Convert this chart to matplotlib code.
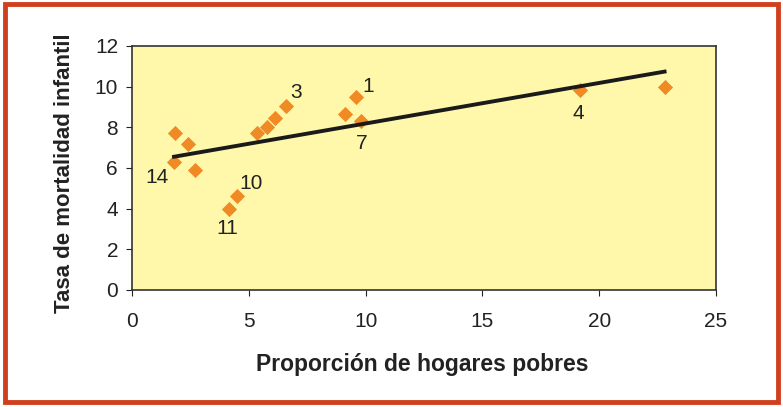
import matplotlib
matplotlib.use("Agg")
import matplotlib.pyplot as plt
from matplotlib.patches import Rectangle
import numpy as np

plt.rcParams['font.family'] = ['Liberation Sans', 'DejaVu Sans']

pobres = [1.8, 1.85, 2.4, 2.7, 4.15, 4.5, 5.35, 5.8, 6.1, 6.6, 9.1, 9.6, 9.8, 19.2, 22.8]
mortalidad = [6.3, 7.7, 7.2, 5.9, 4.0, 4.6, 7.7, 8.0, 8.45, 9.05, 8.65, 9.5, 8.3, 9.85, 10.0]
etiquetas = ["14", "", "", "", "11", "10", "", "", "", "3", "", "1", "7", "4", ""]
label_offsets = {"14": (-17, -16), "11": (-2, -20), "10": (14, 13), "3": (10, 13),
                 "1": (12, 10), "7": (1, -22), "4": (-2, -24)}
xticks = [0, 5, 10, 15, 20, 25]
yticks = [0, 2, 4, 6, 8, 10, 12]

fig = plt.figure(figsize=(7.83, 4.07), dpi=100)
fig.patch.set_facecolor('white')
fig.patches.append(Rectangle((0.006, 0.012), 0.988, 0.978, transform=fig.transFigure,
                             fill=False, edgecolor='#D0401F', linewidth=3.5))

ax = fig.add_axes([0.1686, 0.2875, 0.7458, 0.5995])
ax.set_facecolor('#FFF8AA')
ax.scatter(pobres, mortalidad, marker='D', s=60, color='#F08A24', zorder=3, linewidths=0)

coef = np.polyfit(pobres, mortalidad, 1)
xs = np.array([min(pobres), max(pobres)])
ax.plot(xs, np.polyval(coef, xs), color='#1a1a1a', linewidth=2.8, zorder=4)

labfont = ['Liberation Sans Narrow', 'Liberation Sans', 'DejaVu Sans']
for x, y, t in zip(pobres, mortalidad, etiquetas):
    if t:
        dx, dy = label_offsets[t]
        ax.annotate(t, (x, y), xytext=(dx, dy), textcoords='offset pixels',
                    ha='center', va='center', fontsize=15, color='#222222',
                    family=labfont)

ax.set_xlim(0, 25)
ax.set_ylim(0, 12)
ax.set_xticks(xticks)
ax.set_yticks(yticks)
ax.tick_params(direction='out', length=4, colors='#222222')
ax.tick_params(axis='x', pad=12)
ax.tick_params(axis='y', pad=6)
for lab in ax.get_xticklabels() + ax.get_yticklabels():
    lab.set_family(labfont)
    lab.set_fontsize(15)
for s in ax.spines.values():
    s.set_color('#333333')
    s.set_linewidth(1.2)

fig.text(422 / 783, 1 - 365 / 407, 'Proporción de hogares pobres', fontsize=16.5,
         fontweight='bold', color='#222222', ha='center', va='center')
fig.text(65 / 783, 1 - 173 / 407, 'Tasa de mortalidad infantil', fontsize=16,
         fontweight='bold', color='#222222', ha='center', va='center', rotation=90)

fig.savefig('out.png', dpi=100)
